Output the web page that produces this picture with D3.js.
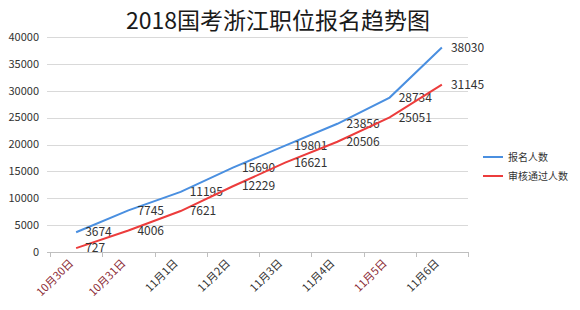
<!DOCTYPE html>
<html>
<head>
<meta charset="utf-8">
<script src="https://cdn.jsdelivr.net/npm/d3@7"></script>
<style>
  body { margin: 0; background: #fff; }
  text { font-family: "Noto Sans CJK SC", "Open Sans", sans-serif; }
</style>
</head>
<body>
<div id="chart"></div>
<script>
var dates = ['10月30日', '10月31日', '11月1日', '11月2日', '11月3日', '11月4日', '11月5日', '11月6日'];
var signUp = [3674, 7745, 11195, 15690, 19801, 23856, 28734, 38030];
var passed = [727, 4006, 7621, 12229, 16621, 20506, 25051, 31145];
var yTicks = [0, 5000, 10000, 15000, 20000, 25000, 30000, 35000, 40000];
var seriesNames = ['报名人数', '审核通过人数'];
var redDates = ['10月30日', '10月31日', '11月5日'];

var width = 580, height = 310,
    plotLeft = 47, plotRight = 468, plotTop = 37, plotBottom = 252,
    colors = ['#4a8fe0', '#ec3c3c'];

var svg = d3.select('#chart').append('svg')
    .attr('width', width)
    .attr('height', height);

var x = d3.scaleBand().domain(dates).range([plotLeft + 3, plotRight]);
var y = d3.scaleLinear().domain([0, 40000]).range([plotBottom, plotTop]);

// title
svg.append('text')
   .attr('x', 278)
   .attr('y', 29)
   .attr('text-anchor', 'middle')
   .attr('font-size', '23px')
   .attr('fill', '#1a1a1a')
   .text('2018国考浙江职位报名趋势图');

// gridlines
svg.append('g')
   .selectAll('line')
   .data(yTicks)
   .enter().append('line')
   .attr('x1', plotLeft)
   .attr('x2', plotRight)
   .attr('y1', function(d) { return Math.round(y(d)) + 0.5; })
   .attr('y2', function(d) { return Math.round(y(d)) + 0.5; })
   .attr('stroke', function(d) { return d === 0 ? '#bfbfbf' : '#d9d9d9'; })
   .attr('stroke-width', 1);

// y labels
svg.append('g')
   .selectAll('text')
   .data(yTicks)
   .enter().append('text')
   .attr('x', 39)
   .attr('y', function(d) { return y(d); })
   .attr('dy', '0.35em')
   .attr('text-anchor', 'end')
   .attr('font-size', '11px')
   .attr('fill', '#333')
   .text(function(d) { return d; });

// bottom axis ticks
var bounds = dates.map(function(d) { return x(d); }).concat([x(dates[dates.length - 1]) + x.bandwidth()]);
svg.append('g')
   .selectAll('line')
   .data(bounds)
   .enter().append('line')
   .attr('x1', function(d) { return Math.round(d) + 0.5; })
   .attr('x2', function(d) { return Math.round(d) + 0.5; })
   .attr('y1', plotBottom)
   .attr('y2', plotBottom + 5)
   .attr('stroke', '#bfbfbf');

// x labels
svg.append('g')
   .selectAll('text')
   .data(dates)
   .enter().append('text')
   .attr('transform', function(d) {
     return 'translate(' + (x(d) + x.bandwidth() / 2 - 2) + ',' + (plotBottom + 12) + ') rotate(-45)';
   })
   .attr('text-anchor', 'end')
   .attr('font-size', '11px')
   .attr('fill', function(d) { return redDates.indexOf(d) > -1 ? '#8b2a35' : '#333'; })
   .text(function(d) { return d; });

// lines and data labels
var cx = function(i) { return x(dates[i]) + x.bandwidth() / 2; };
var line = d3.line()
    .x(function(d, i) { return cx(i); })
    .y(function(d) { return y(d); });

[signUp, passed].forEach(function(series, k) {
  svg.append('path')
     .datum(series)
     .attr('d', line)
     .attr('fill', 'none')
     .attr('stroke', colors[k])
     .attr('stroke-width', 2);

  svg.append('g')
     .selectAll('text')
     .data(series)
     .enter().append('text')
     .attr('x', function(d, i) { return cx(i) + 9; })
     .attr('y', function(d) { return y(d); })
     .attr('dy', '0.35em')
     .attr('font-size', '12px')
     .attr('fill', '#333')
     .text(function(d) { return d; });
});

// legend
var legend = svg.append('g')
    .selectAll('g')
    .data(seriesNames)
    .enter().append('g')
    .attr('transform', function(d, i) { return 'translate(483,' + (157 + i * 19) + ')'; });

legend.append('line')
      .attr('x1', 0)
      .attr('x2', 20)
      .attr('stroke', function(d, i) { return colors[i]; })
      .attr('stroke-width', 2);

legend.append('text')
      .attr('x', 25)
      .attr('dy', '0.35em')
      .attr('font-size', '10px')
      .attr('fill', '#333')
      .text(function(d) { return d; });
</script>
</body>
</html>
